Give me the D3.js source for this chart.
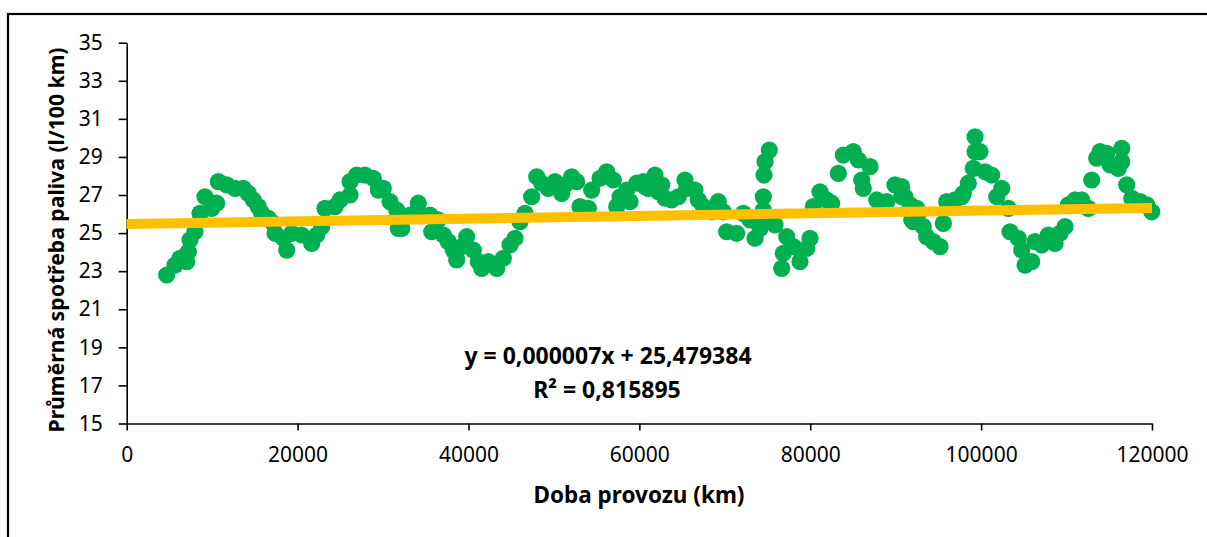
<!DOCTYPE html>
<html>
<head>
<meta charset="utf-8">
<script src="https://cdn.jsdelivr.net/npm/d3@7"></script>
<style>
    html, body { margin: 0; padding: 0; background: #fff; }
    svg { display: block; }
    text { font-family: 'Noto Sans', 'DejaVu Sans', sans-serif; fill: #000; }
</style>
</head>
<body>
<div id="chart"></div>
<script>
/*global d3*/
(function () {
    'use strict';

    // km driven
    var distance = [
        4680, 5650, 6240, 7020, 7210, 7410, 7990, 8580, 9160, 9950,
        10530, 10720, 11700, 12680, 13650, 14230, 14820, 15400, 15800, 16570,
        17160, 17360, 18330, 18730, 19310, 20480, 21650, 22240, 22820, 23210,
        24380, 24970, 26140, 26140, 26920, 27890, 28860, 29450, 30030, 30820,
        31600, 31790, 32190, 33160, 34130, 34130, 35500, 35700, 36470, 37060,
        37640, 38230, 38620, 39210, 39790, 40570, 41150, 41550, 42320, 43310,
        44080, 44860, 45450, 46030, 46620, 47400, 47990, 48570, 49340, 50130,
        50910, 51300, 52080, 52670, 53050, 54030, 54420, 55400, 56180, 56950,
        57350, 57740, 58520, 58910, 59690, 60460, 60660, 61050, 61830, 62220,
        62620, 63000, 63790, 64560, 65340, 65540, 66510, 66900, 67490, 68470,
        69240, 69830, 70220, 71390, 72170, 72950, 73540, 74120, 74510, 74510,
        74590, 74710, 75210, 74710, 75880, 76660, 76850, 77250, 78020, 78800,
        79590, 79970, 80360, 81140, 81930, 82510, 83290, 83870, 85040, 85630,
        86020, 86210, 87000, 87780, 88950, 89920, 90710, 90710, 91090, 91680,
        91880, 92060, 92460, 92650, 93230, 93630, 94400, 95190, 95580, 95970,
        96940, 97730, 97920, 98500, 99090, 99290, 99870, 99290, 100460, 101240,
        101830, 102410, 103180, 103380, 104350, 104750, 105140, 105920, 106310, 107090,
        107860, 108650, 109230, 109820, 110210, 110990, 111770, 112550, 112940, 113530,
        113920, 114700, 115090, 116060, 116460, 116460, 117040, 117630, 118600, 119380,
        119970
    ];

    // average consumption (l/100 km)
    var consumption = [
        22.80, 23.32, 23.68, 23.50, 24.02, 24.64, 25.07, 26.04, 26.91, 26.30,
        26.57, 27.70, 27.53, 27.35, 27.35, 27.09, 26.74, 26.39, 26.04, 25.78,
        25.51, 24.99, 24.73, 24.11, 24.99, 24.90, 24.46, 24.90, 25.34, 26.30,
        26.39, 26.74, 27.00, 27.70, 28.05, 28.05, 27.88, 27.26, 27.35, 26.65,
        26.21, 25.25, 25.25, 25.95, 26.57, 25.95, 25.95, 25.07, 25.69, 24.90,
        24.55, 24.11, 23.59, 24.29, 24.81, 24.11, 23.50, 23.15, 23.50, 23.15,
        23.68, 24.38, 24.73, 25.60, 26.04, 26.91, 27.96, 27.62, 27.35, 27.70,
        27.09, 27.53, 27.96, 27.70, 26.39, 26.30, 27.26, 27.88, 28.22, 27.79,
        26.39, 26.91, 27.26, 26.65, 27.62, 27.70, 27.44, 27.35, 28.05, 27.17,
        27.53, 26.83, 26.74, 26.91, 27.79, 27.35, 27.26, 26.74, 26.39, 26.12,
        26.65, 26.12, 25.07, 24.99, 26.04, 25.69, 24.73, 25.25, 26.21, 26.91,
        28.05, 28.75, 29.36, 25.69, 25.43, 23.15, 23.94, 24.81, 24.29, 23.50,
        24.20, 24.73, 26.39, 27.17, 26.74, 26.57, 28.14, 29.10, 29.28, 28.84,
        27.79, 27.35, 28.49, 26.74, 26.65, 27.53, 26.91, 27.44, 26.91, 26.48,
        25.69, 25.60, 26.30, 26.04, 25.34, 24.81, 24.55, 24.29, 25.51, 26.65,
        26.74, 26.91, 27.09, 27.62, 28.40, 29.28, 29.28, 30.06, 28.22, 28.05,
        26.91, 27.35, 26.30, 25.07, 24.73, 24.11, 23.32, 23.50, 24.55, 24.38,
        24.90, 24.46, 24.99, 25.34, 26.48, 26.74, 26.74, 26.30, 27.79, 28.93,
        29.28, 29.19, 28.58, 28.40, 29.45, 28.75, 27.53, 26.83, 26.65, 26.48,
        26.12
    ];

    var xTicks = [0, 20000, 40000, 60000, 80000, 100000, 120000],
        yTicks = [15, 17, 19, 21, 23, 25, 27, 29, 31, 33, 35],

        trendSlope = 0.000007,
        trendIntercept = 25.479384,
        trendExtent = [0, 120000],
        equationText = 'y = 0,000007x + 25,479384',
        r2Text = 'R² = 0,815895',

        xTitle = 'Doba provozu (km)',
        yTitle = 'Průměrná spotřeba paliva (l/100 km)';

    var width = 1207,
        height = 537,
        plot = { left: 126.7, right: 1152, top: 42.7, bottom: 423.5 },

        svg = d3.select('#chart')
            .append('svg')
            .attr('width', width)
            .attr('height', height),

        x = d3.scaleLinear()
            .domain([0, 120000])
            .range([plot.left, plot.right]),

        y = d3.scaleLinear()
            .domain([15, 35])
            .range([plot.bottom, plot.top]),

        points = distance.map(function (d, i) {
            return { km: d, val: consumption[i] };
        });

    // chart frame, runs off the right and bottom edge
    svg.append('rect')
        .attr('x', 8)
        .attr('y', 14)
        .attr('width', width + 20)
        .attr('height', height + 20)
        .style('fill', '#fff')
        .style('stroke', '#000')
        .style('stroke-width', '2.2px');

    // axes
    var xAxis = svg.append('g')
        .attr('transform', 'translate(0,' + plot.bottom + ')')
        .call(d3.axisBottom(x)
            .tickValues(xTicks)
            .tickSizeInner(7)
            .tickSizeOuter(0)
            .tickFormat(d3.format('d')));

    var yAxis = svg.append('g')
        .attr('transform', 'translate(' + plot.left + ',0)')
        .call(d3.axisLeft(y)
            .tickValues(yTicks)
            .tickSizeInner(8)
            .tickSizeOuter(0)
            .tickFormat(d3.format('d')));

    [xAxis, yAxis].forEach(function (g) {
        g.select('.domain')
            .style('stroke', '#000')
            .style('stroke-width', '1.6px');
        g.selectAll('.tick line')
            .style('stroke', '#000')
            .style('stroke-width', '1.6px');
        g.selectAll('.tick text')
            .style('font-size', '21px')
            .style('font-family', "'Noto Sans', sans-serif")
            .style('fill', '#000');
    });
    xAxis.selectAll('.tick text').attr('y', 24);
    yAxis.selectAll('.tick text').attr('x', -24);

    // scatter points
    svg.append('g')
        .selectAll('circle')
        .data(points)
        .enter()
        .append('circle')
        .attr('cx', function (d) { return x(d.km); })
        .attr('cy', function (d) { return y(d.val); })
        .attr('r', 8.6)
        .style('fill', '#00B050');

    // linear trendline
    svg.append('line')
        .attr('x1', x(trendExtent[0]))
        .attr('y1', y(trendIntercept + trendSlope * trendExtent[0]))
        .attr('x2', x(trendExtent[1]))
        .attr('y2', y(trendIntercept + trendSlope * trendExtent[1]))
        .style('stroke', '#FFC000')
        .style('stroke-width', '10px');

    // equation label
    svg.append('text')
        .attr('x', 608)
        .attr('y', 364)
        .attr('text-anchor', 'middle')
        .style('font-size', '23px')
        .style('font-weight', 'bold')
        .text(equationText);

    svg.append('text')
        .attr('x', 607)
        .attr('y', 398)
        .attr('text-anchor', 'middle')
        .style('font-size', '23px')
        .style('font-weight', 'bold')
        .text(r2Text);

    // axis titles
    svg.append('text')
        .attr('x', 639)
        .attr('y', 503)
        .attr('text-anchor', 'middle')
        .style('font-size', '22.5px')
        .style('font-weight', 'bold')
        .text(xTitle);

    svg.append('text')
        .attr('transform', 'translate(64,240) rotate(-90)')
        .attr('text-anchor', 'middle')
        .style('font-size', '21.2px')
        .style('font-weight', 'bold')
        .text(yTitle);

}());
</script>
</body>
</html>
